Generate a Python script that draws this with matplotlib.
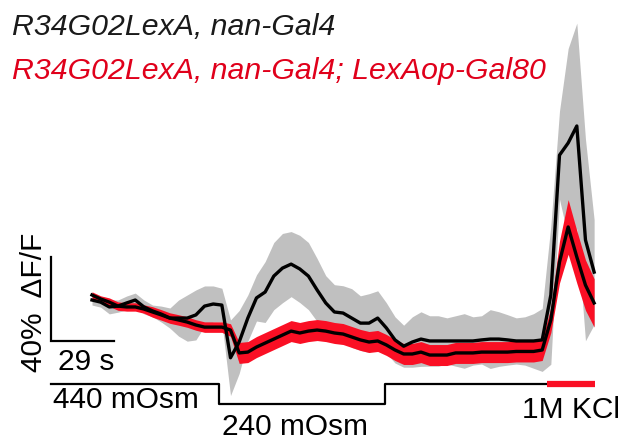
import numpy as np
import matplotlib
matplotlib.use("Agg")
import matplotlib.pyplot as plt

# time axis: one frame every 4 s
t = np.arange(59) * 4.0

# R34G02LexA, nan-Gal4  (mean and SEM, % dF/F)
ctrl_mean = [0, -1.0, -3.3, -2.9, -1.4, 0, -3.3, -5.2, -6.7, -8.6,
             -8.6, -8.6, -7.1, -2.9, -1.9, -2.4, -27.5, -20.0, -8.6, 1.0,
             3.8, 11.4, 15.2, 17.1, 14.8, 11.4, 4.8, -1.4, -5.7, -6.2,
             -8.6, -11.0, -11.0, -8.6, -13.3, -19.0, -22.0, -20.0, -18.6, -19.5,
             -19.5, -19.5, -19.5, -19.5, -19.5, -19.0, -18.6, -18.6, -19.0, -19.5,
             -19.5, -19.5, -19.0, 2.4, 69.0, 74.8, 82.9, 28.6, 13.3]
ctrl_sem = [2.4, 2.4, 3.3, 2.9, 3.3, 3.3, 3.3, 2.8, 3.8, 4.8,
            8.6, 11.0, 11.9, 9.6, 8.6, 8.0, 18.0, 15.0, 11.0, 11.0,
            14.5, 16.0, 16.5, 15.5, 16.0, 16.0, 15.0, 13.0, 13.0, 13.0,
            14.0, 13.0, 14.0, 13.0, 12.0, 11.0, 10.0, 12.0, 13.0, 12.0,
            12.0, 11.0, 12.0, 13.0, 11.5, 11.5, 14.0, 13.0, 12.0, 11.0,
            11.5, 13.0, 15.0, 33.0, 21.0, 45.0, 49.0, 48.0, 25.0]

# R34G02LexA, nan-Gal4; LexAop-Gal80
gal80_mean = [2.4, 0.5, -1.0, -2.9, -3.3, -3.3, -4.3, -5.7, -7.1, -8.6,
              -9.5, -10.5, -11.9, -12.9, -12.9, -12.9, -14.3, -25.2, -24.8, -22.4,
              -20.5, -18.6, -16.7, -14.8, -15.7, -14.8, -14.3, -14.8, -15.7, -16.2,
              -17.6, -19.0, -20.0, -19.5, -21.4, -23.8, -25.7, -25.7, -24.8, -26.2,
              -26.2, -26.2, -25.2, -25.2, -25.2, -24.8, -24.8, -24.8, -24.8, -24.5,
              -24.5, -24.5, -23.8, -9.5, 18.1, 34.8, 20.5, 7.1, -1.4]
gal80_sem = [1.5, 1.5, 2.0, 2.0, 2.0, 2.0, 2.0, 2.5, 2.5, 2.5,
             2.5, 2.5, 2.5, 2.5, 2.5, 2.5, 3.0, 5.0, 5.0, 5.0,
             5.0, 5.0, 5.0, 5.0, 5.0, 5.0, 5.0, 5.0, 5.0, 5.0,
             5.0, 5.0, 5.0, 5.0, 5.0, 5.0, 5.0, 5.0, 5.0, 5.0,
             5.0, 5.0, 5.0, 5.0, 5.0, 5.0, 5.0, 5.0, 5.0, 5.0,
             5.0, 5.0, 5.0, 6.0, 10.0, 13.0, 12.5, 12.0, 11.5]

# stimulus protocol (s)
stim_t = [-19, 58.7, 135.4, 210.3]
stim_labels = ["440 mOsm", "240 mOsm", "1M KCl"]
kcl_end = 232.4

labels = ["R34G02LexA, nan-Gal4", "R34G02LexA, nan-Gal4; LexAop-Gal80"]

red = "#fa0f24"
red_txt = "#e0001b"
grey = "#c0c0c0"

plt.rcParams["font.family"] = ["Liberation Sans", "DejaVu Sans"]

ctrl_mean = np.array(ctrl_mean)
ctrl_sem = np.array(ctrl_sem)
gal80_mean = np.array(gal80_mean)
gal80_sem = np.array(gal80_sem)

fig = plt.figure(figsize=(6.24, 4.43), dpi=100)
ax = fig.add_axes([0, 0, 1, 1])
ax.set_xlim(-42.5, 245.8)
ax.set_ylim(-68.1, 142.9)
ax.axis("off")

ax.fill_between(t, ctrl_mean - ctrl_sem, ctrl_mean + ctrl_sem, color=grey, lw=0)
ax.fill_between(t, gal80_mean - gal80_sem, gal80_mean + gal80_sem, color=red, lw=0)
ax.plot(t, ctrl_mean, color="black", lw=2.4)
ax.plot(t, gal80_mean, color="black", lw=2.4)

# scale bars
ax.plot([-18.9, -18.9, 10.1], [20.5, -19.5, -19.5], color="black", lw=1.6,
        solid_joinstyle="miter")
ax.text(-15.7, -33.3, "29 s", fontsize=21.5, va="baseline", ha="left")
ax.text(-23.1, -34.3, "40%  \u0394F/F", fontsize=21.5, rotation=90,
        rotation_mode="anchor", ha="left", va="baseline")

# stimulus trace
y_hi, y_lo = -40.0, -49.5
ax.plot([stim_t[0], stim_t[1], stim_t[1], stim_t[2], stim_t[2], stim_t[3]],
        [y_hi, y_hi, y_lo, y_lo, y_hi, y_hi], color="black", lw=1.6)
ax.plot([stim_t[3], kcl_end], [y_hi, y_hi], color=red, lw=4.5, solid_capstyle="butt")
ax.text(-18.0, -51.4, stim_labels[0], fontsize=21.5, va="baseline")
ax.text(60.1, -64.3, stim_labels[1], fontsize=21.5, va="baseline")
ax.text(244, -56.2, stim_labels[2], fontsize=21.5, va="baseline", ha="right")

# legend text
ax.text(-37, 126.2, labels[0], fontsize=21.8, style="italic", color="#1a1a1a",
        va="baseline")
ax.text(-37, 105.2, labels[1], fontsize=21.8, style="italic", color=red_txt,
        va="baseline")

fig.savefig("out.png", dpi=100)
